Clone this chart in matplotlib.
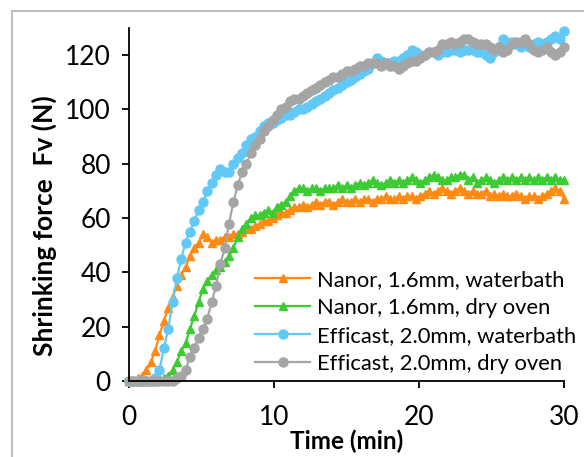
import matplotlib
matplotlib.use("Agg")
import matplotlib.pyplot as plt
from matplotlib.patches import Rectangle

plt.rcParams['font.family'] = ['Lato', 'DejaVu Sans']

# sampling times (min)
time_min = [0, 0.3, 0.6, 0.9, 1.2, 1.5, 1.8, 2.1, 2.4, 2.7,
            3.0, 3.3, 3.6, 3.9, 4.2, 4.5, 4.8, 5.1, 5.4, 5.7,
            6.0, 6.3, 6.6, 6.9, 7.2, 7.5, 7.8, 8.1, 8.4, 8.7,
            9.0, 9.3, 9.6, 9.9, 10.2, 10.5, 10.8, 11.1, 11.4, 11.7,
            12.0, 12.3, 12.6, 12.9, 13.2, 13.5, 13.8, 14.1, 14.4, 14.7,
            15.0, 15.3, 15.6, 15.9, 16.2, 16.5, 16.8, 17.1, 17.4, 17.7,
            18.0, 18.3, 18.6, 18.9, 19.2, 19.5, 19.8, 20.1, 20.4, 20.7,
            21.0, 21.3, 21.6, 21.9, 22.2, 22.5, 22.8, 23.1, 23.4, 23.7,
            24.0, 24.3, 24.6, 24.9, 25.2, 25.5, 25.8, 26.1, 26.4, 26.7,
            27.0, 27.3, 27.6, 27.9, 28.2, 28.5, 28.8, 29.1, 29.4, 29.7,
            30.0]

nanor_waterbath = [0, 0, 1, 2, 4, 7, 11, 17, 22, 27,
                   31, 35, 39, 42, 46, 49, 51, 54, 53, 51,
                   52, 52, 53, 53, 54, 54, 55, 56, 56, 57,
                   58, 59, 59, 60, 61, 62, 62, 63, 64, 64,
                   65, 64, 65, 66, 65, 66, 66, 65, 66, 67,
                   66, 66, 67, 66, 67, 67, 66, 67, 67, 68,
                   67, 67, 68, 67, 68, 68, 67, 68, 69, 70,
                   69, 70, 71, 70, 69, 70, 71, 70, 69, 70,
                   69, 69, 70, 68, 69, 68, 69, 68, 68, 69,
                   68, 67, 68, 68, 67, 68, 69, 70, 71, 70,
                   67]

nanor_dry_oven = [0, 0, 0, 0, 0, 0, 0, 1, 1, 2,
                  4, 7, 11, 14, 19, 24, 29, 34, 37, 39,
                  41, 42, 44, 46, 49, 53, 56, 58, 60, 61,
                  61, 62, 63, 62, 64, 65, 66, 68, 70, 71,
                  71, 70, 71, 71, 70, 71, 71, 71, 72, 71,
                  72, 71, 72, 73, 72, 73, 74, 73, 72, 73,
                  74, 73, 74, 73, 74, 75, 74, 73, 74, 75,
                  76, 75, 74, 74, 75, 75, 76, 76, 74, 75,
                  73, 74, 75, 74, 73, 74, 75, 74, 75, 74,
                  75, 74, 75, 74, 75, 74, 75, 74, 75, 74,
                  74]

efficast_waterbath = [0, 0, 0, 0, 0, 0, 1, 4, 12, 19,
                      29, 38, 45, 51, 55, 59, 63, 66, 70, 73,
                      76, 78, 77, 77, 80, 82, 84, 87, 89, 90,
                      92, 94, 95, 95, 96, 97, 98, 98, 99, 100,
                      100, 101, 102, 103, 104, 105, 106, 107, 108, 109,
                      110, 111, 112, 113, 114, 115, 117, 119, 118, 117,
                      117, 118, 118, 119, 120, 122, 121, 120, 120, 121,
                      121, 120, 121, 121, 122, 122, 121, 122, 122, 122,
                      121, 121, 120, 119, 121, 123, 126, 125, 125, 124,
                      123, 124, 123, 124, 125, 124, 125, 126, 127, 126,
                      129]

efficast_dry_oven = [0, 0, 0, 0, 0, 0, 0, 0, 0, 0,
                     0, 1, 2, 4, 9, 12, 16, 19, 23, 29,
                     35, 43, 49, 58, 66, 72, 77, 80, 84, 87,
                     89, 92, 94, 96, 98, 100, 101, 103, 104, 104,
                     105, 106, 107, 108, 109, 110, 111, 112, 112, 113,
                     114, 114, 115, 116, 116, 117, 117, 117, 116, 117,
                     116, 116, 115, 116, 117, 118, 118, 119, 120, 121,
                     121, 122, 124, 124, 125, 124, 125, 126, 126, 125,
                     124, 124, 124, 123, 122, 123, 121, 122, 124, 125,
                     125, 126, 124, 122, 121, 122, 123, 121, 120, 121,
                     123]

labels = ["Nanor, 1.6mm, waterbath", "Nanor, 1.6mm, dry oven",
          "Efficast, 2.0mm, waterbath", "Efficast, 2.0mm, dry oven"]
colors = ["#FF8A14", "#3CCB32", "#62C9F7", "#A5A5A5"]
markers = ["^", "^", "o", "o"]
series = [nanor_waterbath, nanor_dry_oven, efficast_waterbath, efficast_dry_oven]

fig = plt.figure(figsize=(5.84, 4.57), dpi=100)
ax = fig.add_axes([129 / 584, 1 - 381 / 457, 435 / 584, 353 / 457])

for vals, lab, col, mk in zip(series, labels, colors, markers):
    ms = 6.5 if mk == "o" else 6
    ax.plot(time_min, vals, color=col, marker=mk, markersize=ms,
            linewidth=1.6, label=lab, clip_on=False)

ax.set_xlim(0, 30)
ax.set_ylim(0, 130)
ax.set_xticks([0, 10, 20, 30])
ax.set_yticks([0, 20, 40, 60, 80, 100, 120])
for side in ["top", "right"]:
    ax.spines[side].set_visible(False)
for side in ["left", "bottom"]:
    ax.spines[side].set_linewidth(1.3)
ax.tick_params(axis="both", direction="out", length=5, width=1.3, labelsize=19)
ax.tick_params(axis="x", pad=12)
ax.tick_params(axis="y", pad=8)

ax.set_xlabel("Time (min)", fontsize=17.5, fontweight="bold", labelpad=0)
ax.set_ylabel("Shrinking force  Fv (N)", fontsize=19, fontweight="bold")
ax.yaxis.set_label_coords(-0.165, 0.44)

ax.legend(loc="upper left", bbox_to_anchor=(0.29, 0.315), frameon=False,
          fontsize=15.8, handlelength=2.5, handletextpad=0.3,
          labelspacing=0.36, borderpad=0, borderaxespad=0)

# chart area border
fig.patches.append(Rectangle((12 / 584, -0.1), 1.0, 1 - 11 / 457 + 0.1,
                             transform=fig.transFigure, fill=False,
                             edgecolor="#BFBFBF", linewidth=1.5))

fig.savefig("out.png", dpi=100)
